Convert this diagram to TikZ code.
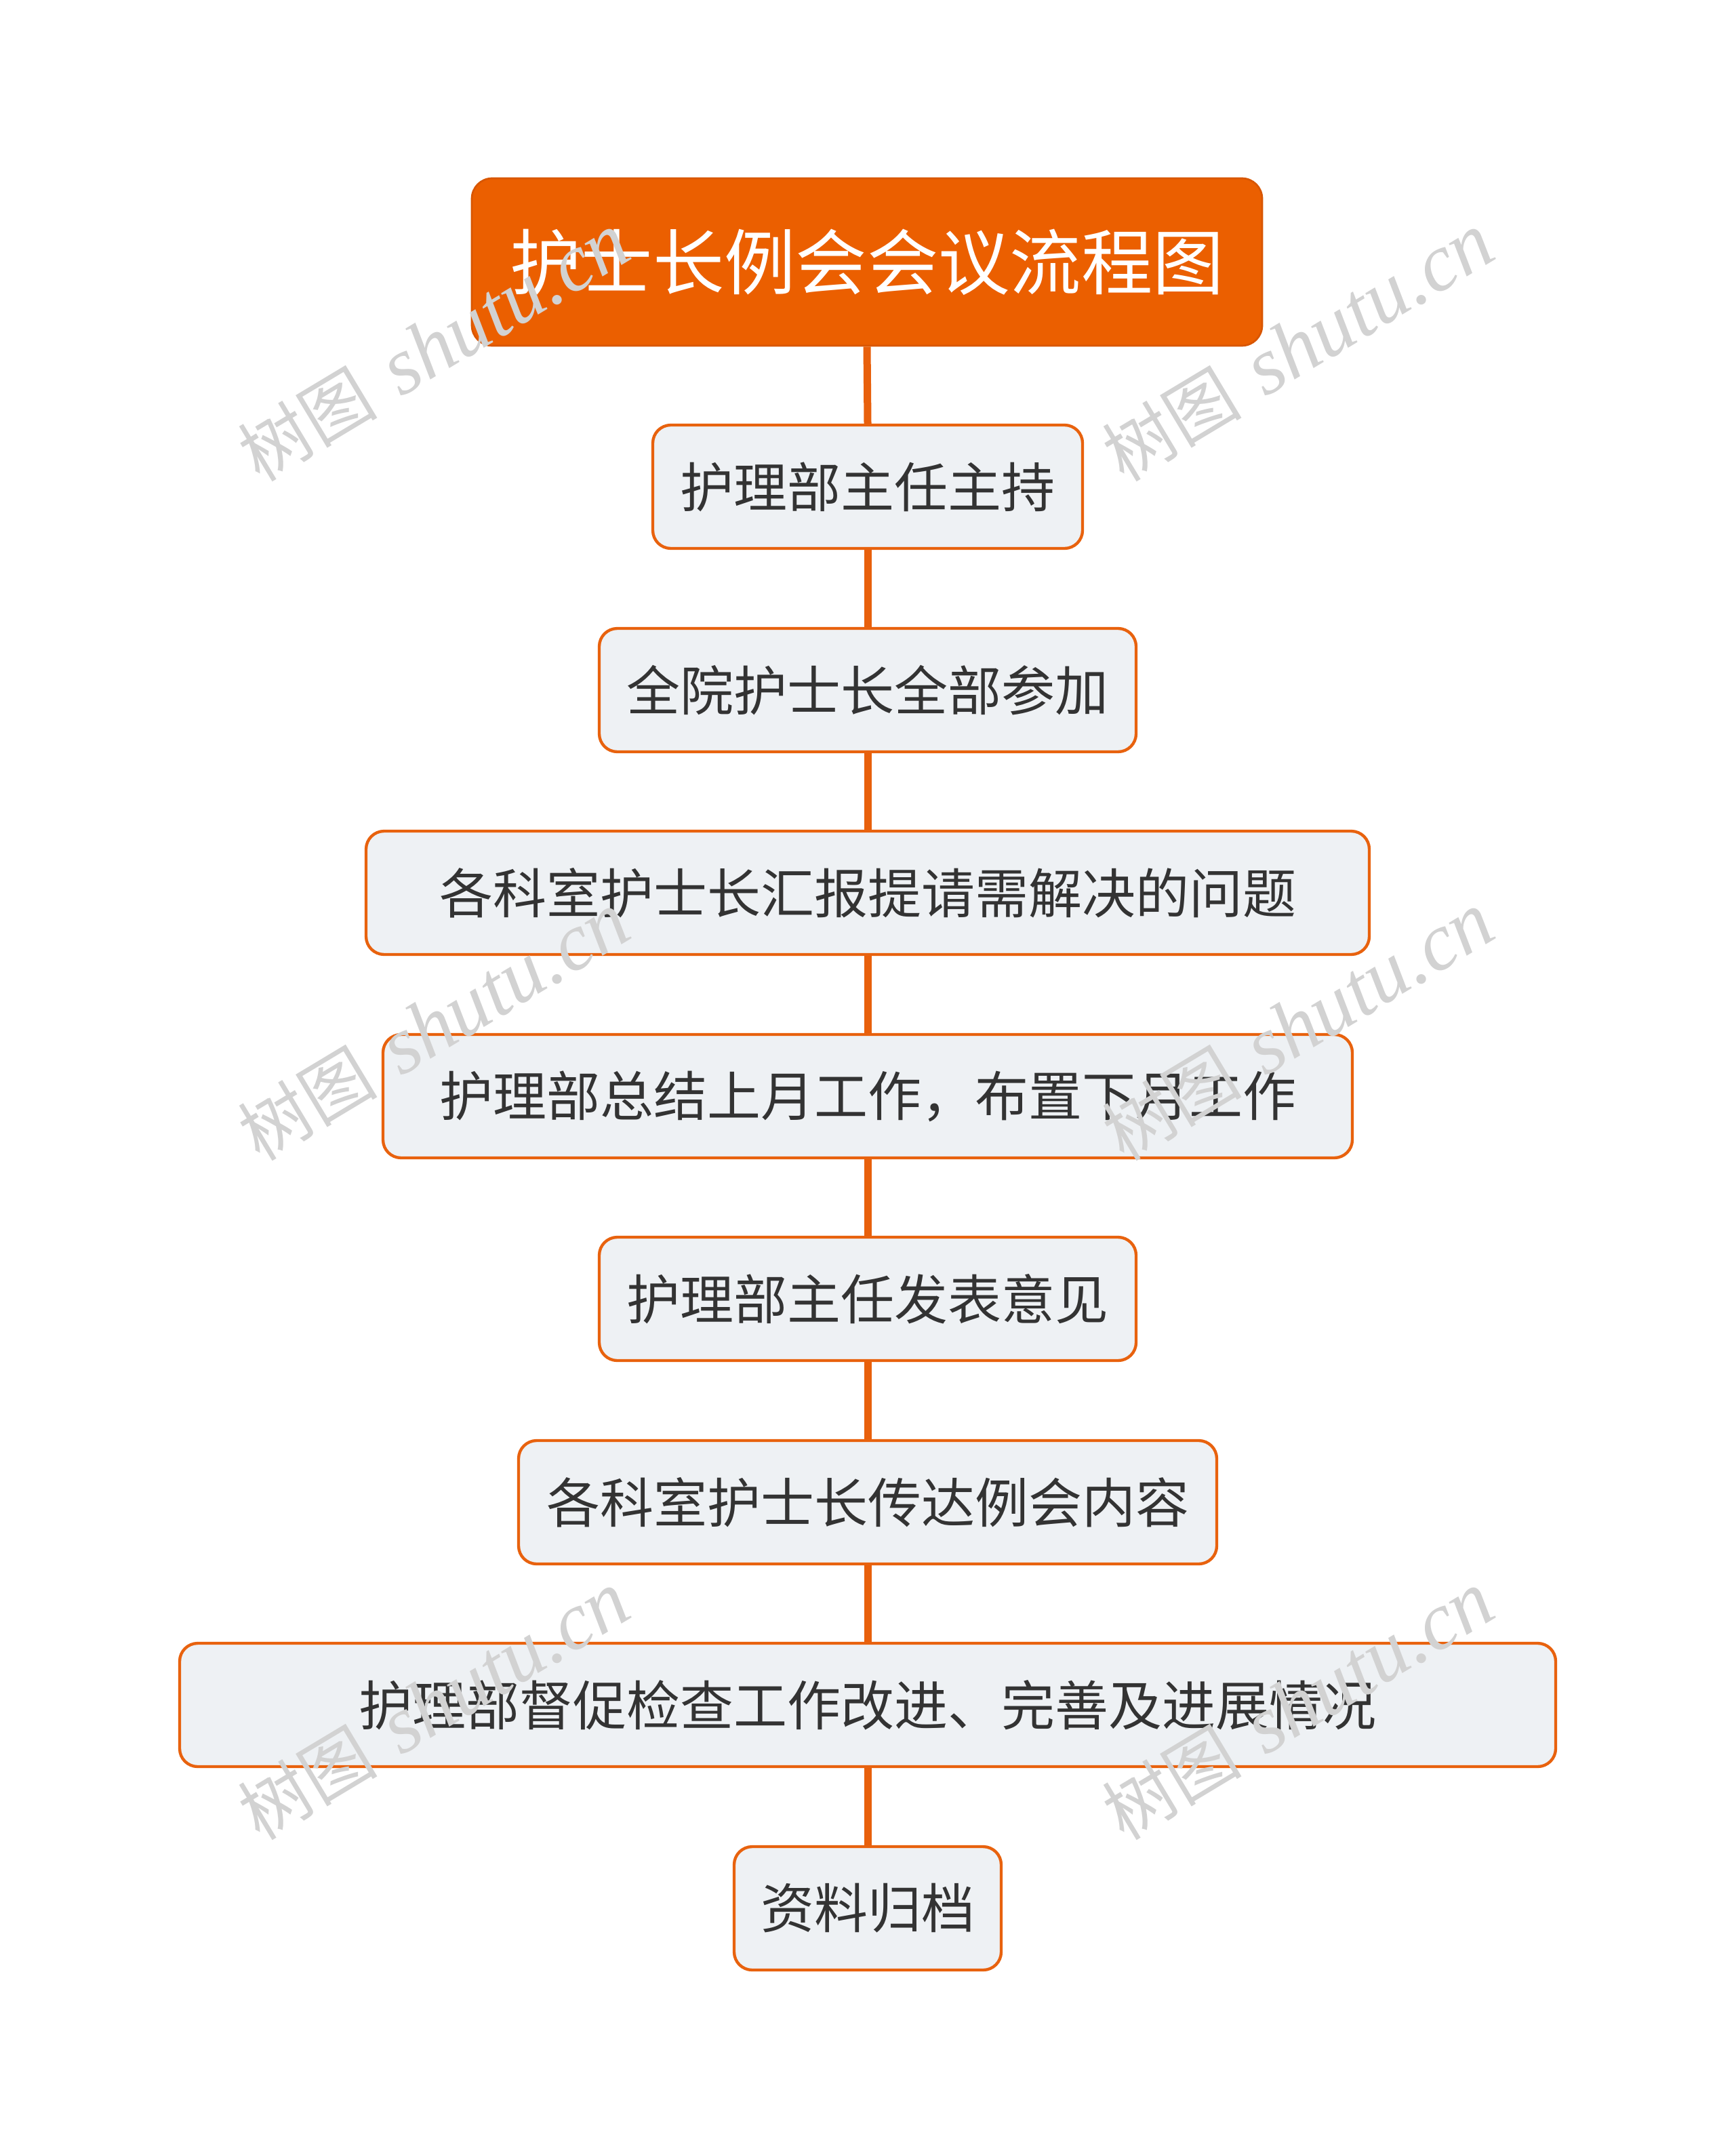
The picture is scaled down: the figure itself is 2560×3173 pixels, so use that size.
\documentclass[tikz,border=0pt]{standalone}
\usepackage{fontspec}
\newfontfamily\cjk{Noto Sans CJK SC}
\newfontfamily\wmser{Liberation Serif}
\definecolor{boxline}{HTML}{E8620E}
\definecolor{boxfill}{HTML}{EEF1F4}
\definecolor{titlefill}{HTML}{EB5F00}
\definecolor{titleline}{HTML}{D85600}
\definecolor{linkc}{HTML}{E8600C}
\definecolor{txt}{HTML}{333333}
\definecolor{wmc}{HTML}{D2D2D2}
\begin{document}
\begin{tikzpicture}[x=0.3pt,y=-0.3pt,
  box/.style={draw=boxline, line width=1.3pt, fill=boxfill, rounded corners=8pt,
    minimum height=54.6pt, inner sep=0pt, text=txt,
    font=\cjk\fontsize{23.7pt}{28pt}\selectfont},
  titlebox/.style={draw=titleline, line width=0.8pt, fill=titlefill, rounded corners=9pt,
    minimum width=349.8pt, minimum height=74.1pt, inner sep=0pt, text=white,
    font=\cjk\fontsize{31.6pt}{36pt}\selectfont},
  link/.style={draw=linkc, line width=3.3pt},
  wm/.style={text=wmc, rotate=31, inner sep=0pt, font=\fontsize{36pt}{40pt}\selectfont}]
\fill[white] (0,0) rectangle (2560,3173);
\useasboundingbox (0,0) rectangle (2560,3173);

\node[titlebox] (t) at (1279,386.5) {护士长例会会议流程图};
\node[box, minimum width=190.2pt] (b1) at (1280,718) {护理部主任主持};
\node[box, minimum width=237.6pt] (b2) at (1280,1018) {全院护士长全部参加};
\node[box, minimum width=444pt] (b3) at (1280,1317) {各科室护士长汇报提请需解决的问题};
\node[box, minimum width=429pt] (b4) at (1280,1617) {护理部总结上月工作，布置下月工作};
\node[box, minimum width=237.6pt] (b5) at (1280,1916) {护理部主任发表意见};
\node[box, minimum width=309pt] (b6) at (1280,2216) {各科室护士长传达例会内容};
\node[box, minimum width=609pt] (b7) at (1280,2515) {护理部督促检查工作改进、完善及进展情况};
\node[box, minimum width=118.2pt] (b8) at (1280,2815) {资料归档};

\draw[link] (t.south) -- (b1.north);
\draw[link] (b1.south) -- (b2.north);
\draw[link] (b2.south) -- (b3.north);
\draw[link] (b3.south) -- (b4.north);
\draw[link] (b4.south) -- (b5.north);
\draw[link] (b5.south) -- (b6.north);
\draw[link] (b6.south) -- (b7.north);
\draw[link] (b7.south) -- (b8.north);

\foreach \wx/\wy [count=\i] in {640/512, 1915/512, 640/1514, 1915/1514, 640/2516, 1915/2516}
  \node[wm] (w\i) at (\wx,\wy) {{\cjk\fontsize{31pt}{36pt}\selectfont 树图} {\wmser\itshape shutu.cn}};
\end{tikzpicture}
\end{document}
